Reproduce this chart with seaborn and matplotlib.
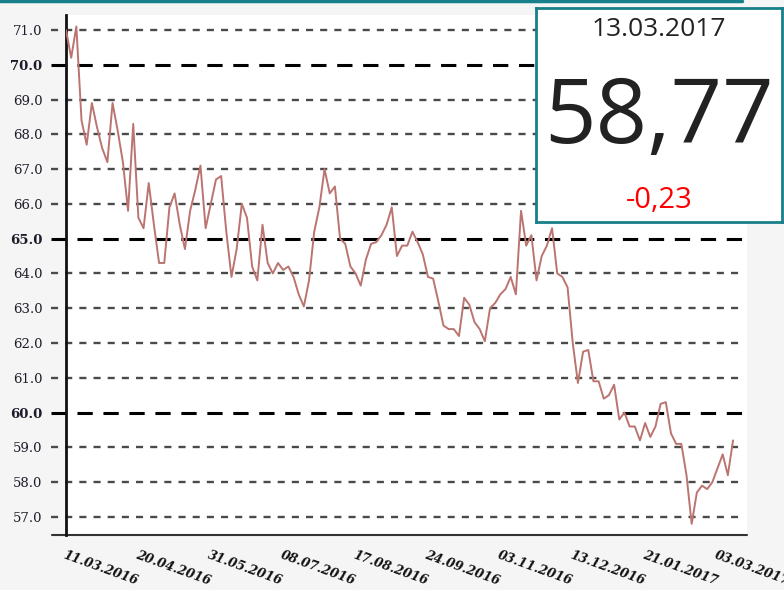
import matplotlib
matplotlib.use('Agg')
import matplotlib.pyplot as plt
import seaborn as sns
from matplotlib.lines import Line2D

# USD/RUB rate (evenly spaced points, 11.03.2016 .. 13.03.2017)
rate = [
    71.0, 70.2, 71.1, 68.4, 67.7, 68.9, 68.2, 67.6, 67.2, 68.9,
    68.1, 67.2, 65.8, 68.3, 65.6, 65.3, 66.6, 65.4, 64.3, 64.3,
    65.9, 66.3, 65.4, 64.7, 65.8, 66.4, 67.1, 65.3, 66.0, 66.7,
    66.8, 65.2, 63.9, 64.7, 66.0, 65.6, 64.2, 63.8, 65.4, 64.3,
    64.0, 64.3, 64.1, 64.2, 63.9, 63.4, 63.05, 63.8, 65.2, 65.9,
    67.0, 66.3, 66.5, 65.0, 64.85, 64.2, 64.0, 63.65, 64.4, 64.85,
    64.9, 65.1, 65.4, 65.9, 64.5, 64.8, 64.8, 65.2, 64.9, 64.55,
    63.9, 63.85, 63.2, 62.5, 62.4, 62.4, 62.2, 63.3, 63.1, 62.6,
    62.4, 62.05, 63.0, 63.15, 63.4, 63.55, 63.9, 63.4, 65.8, 64.8,
    65.1, 63.8, 64.5, 64.8, 65.3, 64.0, 63.9, 63.6, 62.0, 60.85,
    61.75, 61.8, 60.9, 60.9, 60.4, 60.5, 60.8, 59.8, 60.0, 59.6,
    59.6, 59.2, 59.7, 59.3, 59.6, 60.25, 60.3, 59.4, 59.1, 59.1,
    58.2, 56.8, 57.7, 57.9, 57.8, 58.0, 58.4, 58.8, 58.2, 59.2,
]
date_labels = ['11.03.2016', '20.04.2016', '31.05.2016', '08.07.2016', '17.08.2016',
               '24.09.2016', '03.11.2016', '13.12.2016', '21.01.2017', '03.03.2017']
tick_step = 14
y_ticks = [57, 58, 59, 60, 61, 62, 63, 64, 65, 66, 67, 68, 69, 70, 71]
major_levels = [60, 65, 70]

last_date = '13.03.2017'
last_value = '58,77'
last_change = '-0,23'

sns.set_style('white')
plt.rcParams['font.family'] = ['DejaVu Sans']

fig = plt.figure(figsize=(7.84, 5.9), dpi=100)
fig.patch.set_facecolor('#f5f5f5')
ax = fig.add_axes([0.0842, 0.0932, 0.8686, 0.8814])
ax.set_facecolor('white')

# grid lines (drawn first so the line sits on top)
for v in y_ticks:
    if v in major_levels:
        ax.axhline(v, xmin=-0.022, xmax=0.995, color='black', lw=2.2,
                   dashes=(5, 3.5), clip_on=False, zorder=1)
    else:
        ax.axhline(v, xmin=-0.022, xmax=0.995, color='#4a4a4a', lw=1.7,
                   dashes=(3, 3), clip_on=False, zorder=1)

idx = list(range(len(rate)))
sns.lineplot(x=idx, y=rate, ax=ax, color='#bb7470', lw=1.4, zorder=3)

ax.set_xlim(0, 131.7)
ax.set_ylim(56.48, 71.43)

ax.set_yticks(y_ticks)
ax.set_yticklabels([f'{v:.1f}' for v in y_ticks], family='DejaVu Serif',
                   fontsize=9.5, color='#1c1c2a')
for lbl, v in zip(ax.get_yticklabels(), y_ticks):
    if v in major_levels:
        lbl.set_fontweight('bold')
ax.tick_params(axis='y', length=0, pad=17)

ax.set_xticks([i * tick_step for i in range(len(date_labels))])
ax.set_xticklabels(date_labels, rotation=-20, ha='left', va='top',
                   rotation_mode='anchor', family='DejaVu Serif',
                   fontsize=9, fontweight='bold', style='italic', color='#111111')
ax.tick_params(axis='x', length=0, pad=10)

for s in ['top', 'right']:
    ax.spines[s].set_visible(False)
ax.spines['left'].set_color('#111111')
ax.spines['left'].set_linewidth(2)
ax.spines['bottom'].set_visible(False)
ax.add_line(Line2D([-0.021, 1.0], [0, 0], transform=ax.transAxes, color='#333333',
                   lw=1.5, clip_on=False))
ax.set_xlabel('')
ax.set_ylabel('')

# teal rule at the very top
fig.add_artist(Line2D([0, 0.946], [0.998, 0.998], color='#17808a', lw=2.5))

# info box
box = fig.add_axes([0.6837, 0.6237, 0.3138, 0.3627], zorder=5)
box.set_facecolor('white')
box.set_xticks([])
box.set_yticks([])
for s in box.spines.values():
    s.set_color('#17808a')
    s.set_linewidth(2)
box.text(0.5, 0.9, last_date, ha='center', va='center', fontsize=19,
         family='Open Sans', color='#222222', transform=box.transAxes)
box.text(0.5, 0.48, last_value, ha='center', va='center', fontsize=65,
         family='Open Sans', color='#222222', transform=box.transAxes)
box.text(0.5, 0.1, last_change, ha='center', va='center', fontsize=21,
         family='Open Sans', color='#ff0000', transform=box.transAxes)

fig.savefig('out.png', dpi=100, facecolor=fig.get_facecolor())
